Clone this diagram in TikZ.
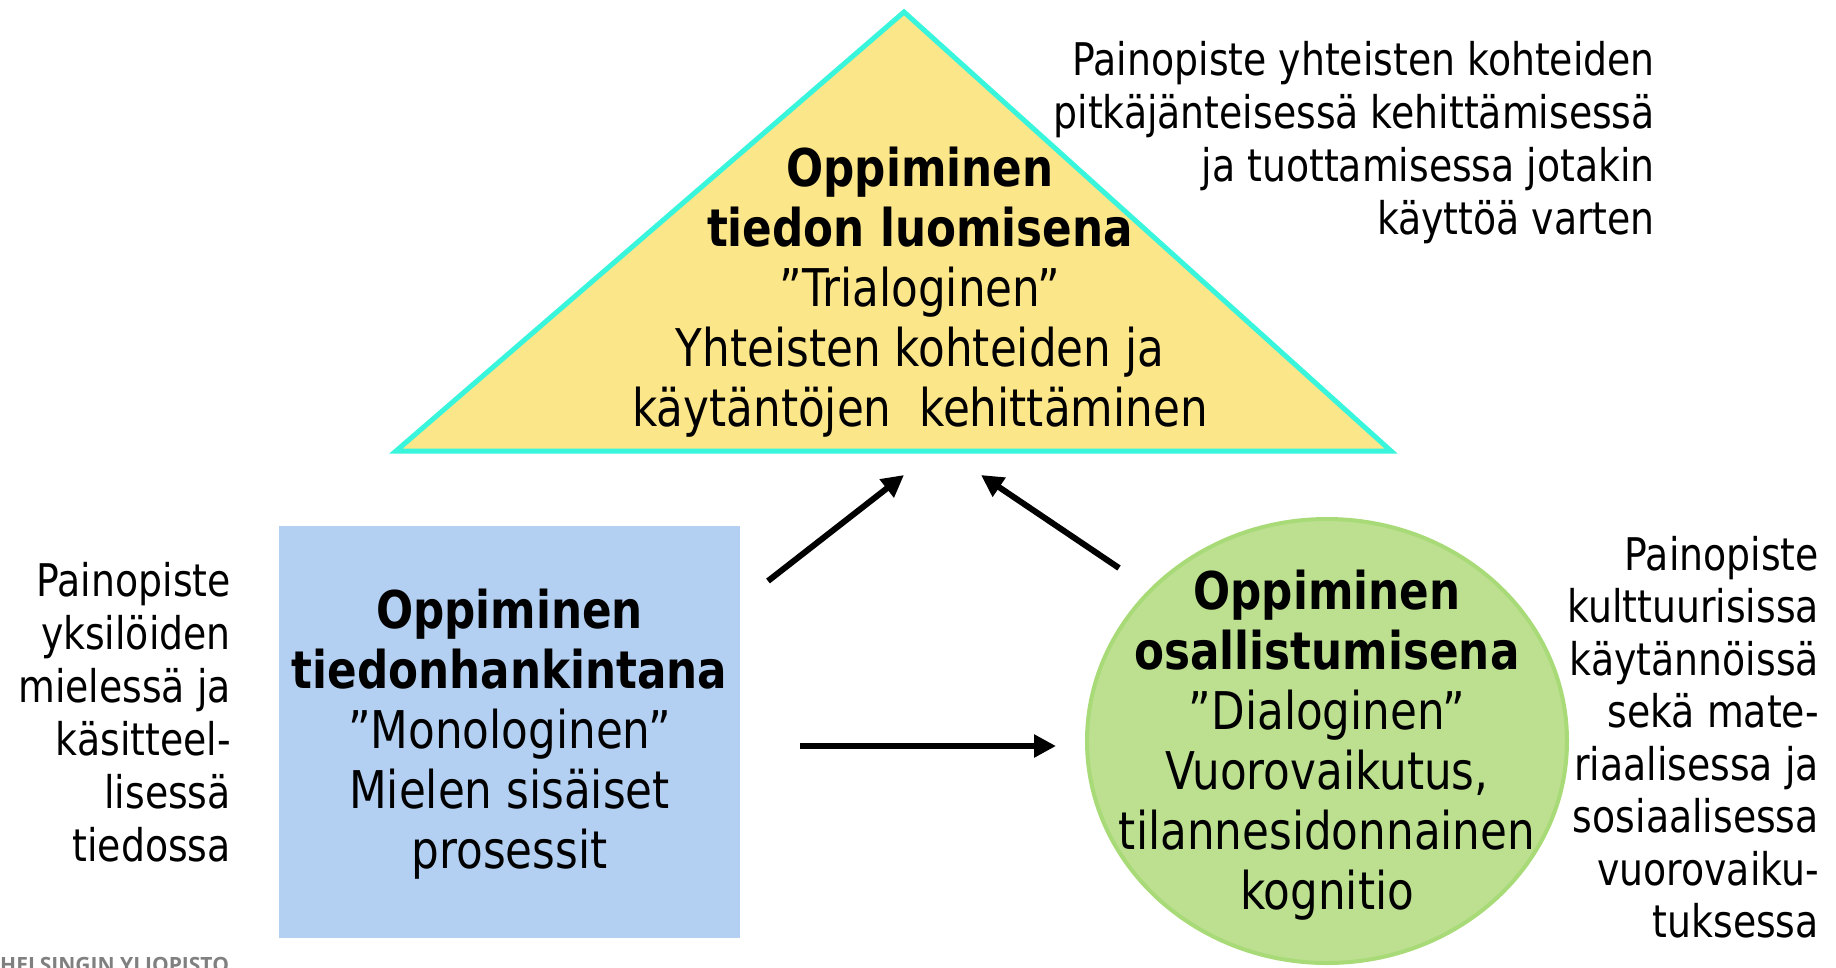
\documentclass[tikz,border=0pt]{standalone}
\usepackage{fontspec}
\setmainfont{DejaVu Sans}[FakeStretch=0.84]
\newfontfamily\logofont{Open Sans}
\usetikzlibrary{arrows.meta,shapes.geometric}
\definecolor{triyellow}{RGB}{252,230,138}
\definecolor{tricyan}{RGB}{56,245,220}
\definecolor{boxblue}{RGB}{179,208,242}
\definecolor{circgreen}{RGB}{188,224,143}
\definecolor{circline}{RGB}{168,218,120}

\begin{document}
\begin{tikzpicture}[x=1pt,y=-1pt]
        \tikzset{
            bigtext/.style={
                    align=center,
                    font=\fontsize{52}{60}\selectfont
                },
            sidetext/.style={
                    align=right,
                    anchor=east,
                    inner sep=0pt,
                    font=\fontsize{45}{53}\selectfont
                },
            myarrow/.style={
                    line width=6pt,
                    -{Triangle[length=22pt,width=22pt]}
                }
        }
        \useasboundingbox (0,0) rectangle (1836,967);
        \path (904,12) coordinate (T) (396,451) coordinate (L) (1391,451) coordinate (R);
        \draw[line width=5pt, draw=tricyan, fill=triyellow] (L) -- (T) -- (R) -- cycle;
        \node[bigtext] (tri) at (920,292) {\textbf{Oppiminen}\\ \textbf{tiedon luomisena}\\ ”Trialoginen”\\ Yhteisten kohteiden ja\\ käytäntöjen~ kehittäminen};
        \node[fill=boxblue, minimum width=461pt, minimum height=412pt, inner sep=0pt] (box) at (509.5,732) {};
        \node[bigtext] (boxtext) at (509.5,734) {\textbf{Oppiminen}\\ \textbf{tiedonhankintana}\\ ”Monologinen”\\ Mielen sisäiset\\ prosessit};
        \node[ellipse, draw=circline, line width=4pt, fill=circgreen, minimum width=480pt, minimum height=444pt] (circ) at (1327,741) {};
        \node[bigtext] (circtext) at (1327,745) {\textbf{Oppiminen}\\ \textbf{osallistumisena}\\ ”Dialoginen”\\ Vuorovaikutus,\\ tilannesidonnainen\\ kognitio};
        % side notes
        \node[sidetext] (topnote) at (1655,143) {Painopiste yhteisten kohteiden\\ pitkäjänteisessä kehittämisessä\\ ja tuottamisessa jotakin\\ käyttöä varten};
        \node[sidetext] (leftnote) at (231,712) {Painopiste\\ yksilöiden\\ mielessä ja\\ käsitteel-\\ lisessä\\ tiedossa};
        \node[sidetext, font=\fontsize{45}{52.5}\selectfont] (rightnote) at (1819,737) {Painopiste\\ kulttuurisissa\\ käytännöissä\\ sekä mate-\\ riaalisessa ja\\ sosiaalisessa\\ vuorovaiku-\\ tuksessa};
        \node[anchor=base west, inner sep=0pt, text=gray, font=\logofont\bfseries\fontsize{21}{21}\selectfont] (logo) at (0,972) {HELSINGIN YLIOPISTO};
        % arrows
        \path (768,581) coordinate (a1) (904,475) coordinate (b1)
              (1119,568) coordinate (a2) (981,475) coordinate (b2)
              (800,746) coordinate (a3) (1056,746) coordinate (b3);
        \draw[myarrow] (a1) -- (b1);
        \draw[myarrow] (a2) -- (b2);
        \draw[myarrow] (a3) -- (b3);
\end{tikzpicture}
\end{document}
